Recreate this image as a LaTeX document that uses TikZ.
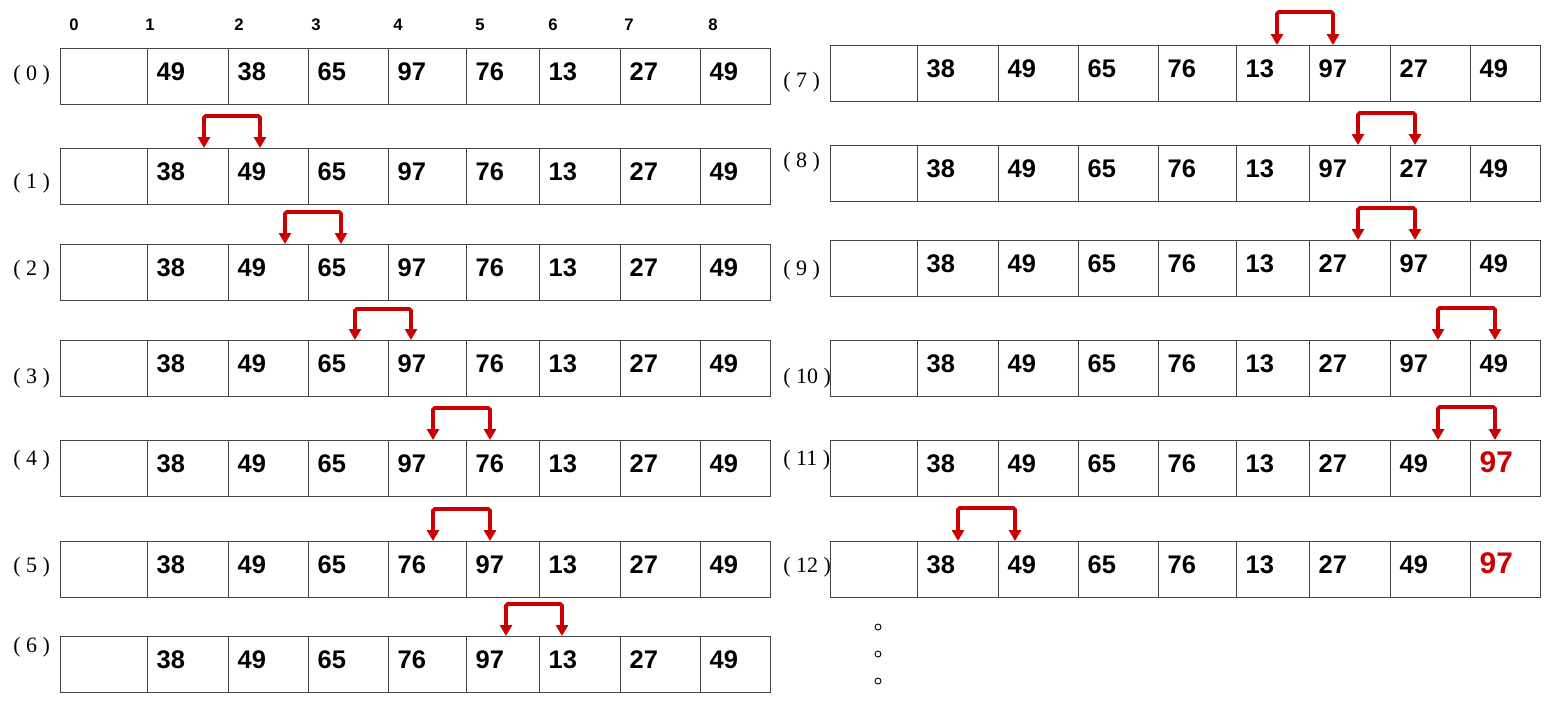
\documentclass[tikz,border=0pt]{standalone}
\usepackage{fontspec}
\setmainfont{Liberation Serif}
\newfontfamily\cellfont{Liberation Sans}
\definecolor{swapred}{HTML}{CC0000}
\definecolor{gridline}{HTML}{444444}
\usetikzlibrary{arrows.meta, positioning}
\newcommand\hotval[1]{{\color{swapred}\fontsize{17}{18}\selectfont #1}}

\begin{document}
\begin{tikzpicture}[
  x=0.02cm, y=-0.02cm,
  cell/.style={draw=gridline, line width=0.8pt, anchor=north west,
               minimum height=1.12cm, inner xsep=0.18cm, inner ysep=0pt, align=left,
               font=\cellfont\bfseries\fontsize{14.5}{16}\selectfont,
               text height=0.72em, text depth=0.3em},
  idx/.style={font=\cellfont\bfseries\fontsize{9.5}{11}\selectfont},
  passlabel/.style={anchor=west, inner sep=0pt, font=\fontsize{12.5}{14}\selectfont},
  swaparrow/.style={{Triangle[length=0.22cm, width=0.24cm]}-{Triangle[length=0.22cm, width=0.24cm]},
                    line width=2.2pt, rounded corners=1pt, color=swapred},
  dot/.style={circle, draw, line width=0.5pt, inner sep=0pt, minimum size=0.12cm},
]
\useasboundingbox (0,0) rectangle (1565,704);

% column indices
\foreach \i/\x in {0/74,1/150,2/239,3/316,4/398,5/480,6/553,7/629,8/713}
  \node[idx] (h\i) at (\x,25) {\i};

% one row per pass
\foreach \pp/\dx/\ty/\lby/\vals in {
    0/0/48/75/{49,38,65,97,76,13,27,49},
    1/0/148/183/{38,49,65,97,76,13,27,49},
    2/0/244/270/{38,49,65,97,76,13,27,49},
    3/0/340/378/{38,49,65,97,76,13,27,49},
    4/0/440/460/{38,49,65,97,76,13,27,49},
    5/0/541/567/{38,49,65,76,97,13,27,49},
    6/0/636/647/{38,49,65,76,97,13,27,49},
    7/770/45/82/{38,49,65,76,13,97,27,49},
    8/770/145/162/{38,49,65,76,13,97,27,49},
    9/770/240/270/{38,49,65,76,13,27,97,49},
    10/770/340/378/{38,49,65,76,13,27,97,49},
    11/770/440/460/{38,49,65,76,13,27,49,\hotval{97}},
    12/770/541/567/{38,49,65,76,13,27,49,\hotval{97}}}{
  \node[passlabel] (l\pp) at (13+\dx,\lby) {( \pp\ )};
  \node[cell, minimum width=1.74cm, text width=1.38cm] (r\pp-0) at (60+\dx,\ty) {};
  \foreach \v [count=\ci] in \vals {
    \pgfmathsetmacro\xl{{60,147,228,308,388,466,539,620,700,770}[\ci]}
    \pgfmathsetmacro\xr{{60,147,228,308,388,466,539,620,700,770}[\ci+1]}
    \pgfmathsetmacro\cw{(\xr-\xl)*0.02}
    \pgfmathsetmacro\tw{(\xr-\xl-18)*0.02}
    \node[cell, minimum width=\cw cm, text width=\tw cm] (r\pp-\ci) at (\xl+\dx,\ty) {\v};
  }
}

% swaps
\foreach \pp/\xa/\xb/\yt in {1/204/260/116, 2/285/341/212, 3/355/411/309,
    4/433/490/408, 5/433/490/509, 6/506/562/604, 7/1277/1333/12,
    8/1358/1415/113, 9/1358/1415/208, 10/1438/1495/308,
    11/1438/1495/407, 12/958/1015/508}{
  \coordinate (a\pp) at (r\pp-1.north -| \xa,0);
  \coordinate (b\pp) at (r\pp-1.north -| \xb,0);
  \coordinate (t\pp) at (\xb,\yt);
  \draw[swaparrow] (a\pp) |- (t\pp) -- (b\pp);
}

\foreach \i/\y in {1/627,2/654,3/681}
  \node[dot] (d\i) at (878,\y) {};

\end{tikzpicture}
\end{document}
